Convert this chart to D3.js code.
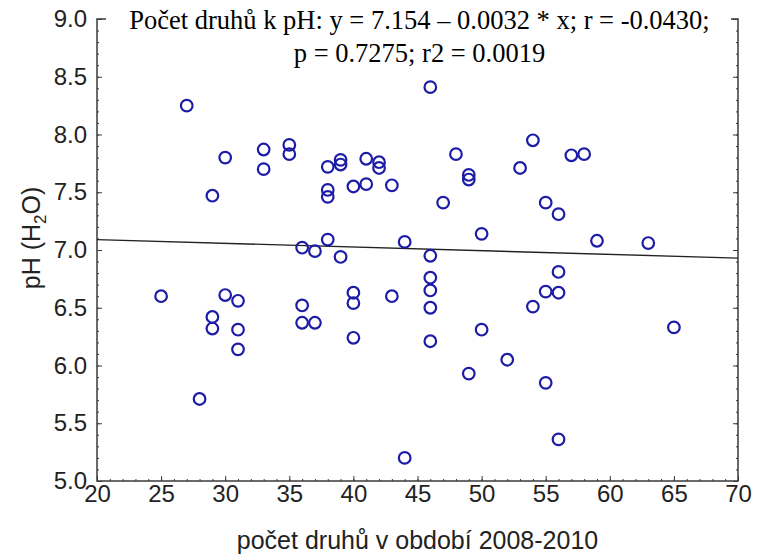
<!DOCTYPE html>
<html>
<head>
<meta charset="utf-8">
<script src="https://cdn.jsdelivr.net/npm/d3@7"></script>
<style>
  html, body { margin: 0; padding: 0; background: #fff; }
  svg { display: block; }
</style>
</head>
<body>
<svg id="chart" width="757" height="556"></svg>
<script>
// ---- data ----
const speciesCount = [
  25, 27, 28, 29, 29, 29, 30, 30, 31, 31, 31,
  33, 33, 35, 35, 36, 36, 36, 37, 37,
  38, 38, 38, 38, 39, 39, 39, 40, 40, 40, 40,
  41, 41, 42, 42, 43, 43, 44, 44,
  46, 46, 46, 46, 46, 46, 47, 48, 49, 49, 49,
  50, 50, 52, 53, 54, 54, 55, 55, 55,
  56, 56, 56, 56, 57, 58, 59, 63, 65
];
const phValues = [
  6.60, 8.25, 5.71, 7.47, 6.42, 6.32, 7.80, 6.61, 6.56, 6.31, 6.14,
  7.87, 7.70, 7.91, 7.83, 7.02, 6.52, 6.37, 6.99, 6.37,
  7.72, 7.52, 7.46, 7.09, 7.78, 7.74, 6.94, 7.55, 6.63, 6.54, 6.24,
  7.79, 7.57, 7.76, 7.71, 7.56, 6.60, 7.07, 5.20,
  8.41, 6.95, 6.76, 6.65, 6.50, 6.21, 7.41, 7.83, 7.65, 7.61, 5.93,
  7.14, 6.31, 6.05, 7.71, 7.95, 6.51, 7.41, 6.64, 5.85,
  7.31, 6.81, 6.63, 5.36, 7.82, 7.83, 7.08, 7.06, 6.33
];
const fitIntercept = 7.154;
const fitSlope = -0.0032;
const xTicks = [20, 25, 30, 35, 40, 45, 50, 55, 60, 65, 70];
const yTicks = [5.0, 5.5, 6.0, 6.5, 7.0, 7.5, 8.0, 8.5, 9.0];
const titleLines = [
  "Počet druhů k pH: y = 7.154 – 0.0032 * x; r = -0.0430;",
  "p = 0.7275; r2 = 0.0019"
];
const xTitle = "počet druhů v období 2008-2010";

// ---- layout ----
const W = 757, H = 556;
const m = { left: 97, right: 19, top: 19, bottom: 75 };
const pw = W - m.left - m.right, ph = H - m.top - m.bottom;

const svg = d3.select("#chart");
const g = svg.append("g").attr("transform", `translate(${m.left},${m.top})`);

const x = d3.scaleLinear().domain([20, 70]).range([0, pw]);
const y = d3.scaleLinear().domain([5, 9]).range([ph, 0]);

const axisColor = "#3a3a3a";
const labelFont = "Arial, 'Liberation Sans', sans-serif";

// frame
g.append("rect").attr("x", 0).attr("y", 0).attr("width", pw).attr("height", ph)
  .attr("fill", "none").attr("stroke", axisColor).attr("stroke-width", 1.5);

function styleAxis(sel) {
  sel.select(".domain").remove();
  sel.selectAll(".tick line").attr("stroke", axisColor).attr("stroke-width", 1);
  sel.selectAll(".tick text").attr("fill", "#222").style("font-family", labelFont).style("font-size", "24px");
}

// minor ticks
const yMinor = d3.range(50, 91).map(v => v / 10);
const xMinor = d3.range(20, 71);
g.append("g").call(d3.axisLeft(y).tickValues(yMinor).tickSizeInner(-2).tickSizeOuter(0).tickFormat(""))
  .call(styleAxis);
g.append("g").attr("transform", `translate(${pw},0)`)
  .call(d3.axisRight(y).tickValues(yMinor).tickSizeInner(-2).tickSizeOuter(0).tickFormat(""))
  .call(styleAxis);
g.append("g").attr("transform", `translate(0,${ph})`)
  .call(d3.axisBottom(x).tickValues(xMinor).tickSizeInner(-2).tickSizeOuter(0).tickFormat(""))
  .call(styleAxis);

// major ticks
g.append("g").call(d3.axisLeft(y).tickValues(yTicks).tickSizeInner(-5).tickSizeOuter(0)
    .tickPadding(10).tickFormat(d3.format(".1f")))
  .call(styleAxis);
g.append("g").attr("transform", `translate(${pw},0)`)
  .call(d3.axisRight(y).tickValues(yTicks).tickSizeInner(-5).tickSizeOuter(0).tickFormat(""))
  .call(styleAxis);
g.append("g").attr("transform", `translate(0,${ph})`)
  .call(d3.axisBottom(x).tickValues(xTicks).tickSizeInner(-5).tickSizeOuter(0).tickPadding(4))
  .call(styleAxis);

// regression line
const lineData = [20, 70].map(v => [v, fitIntercept + fitSlope * v]);
g.append("path").datum(lineData)
  .attr("d", d3.line().x(d => x(d[0])).y(d => y(d[1])))
  .attr("fill", "none").attr("stroke", "#222").attr("stroke-width", 1.4);

// points
const pts = speciesCount.map((v, i) => ({ x: v, y: phValues[i] }));
g.append("g").selectAll("circle").data(pts).join("circle")
  .attr("cx", d => x(d.x)).attr("cy", d => y(d.y)).attr("r", 5.8)
  .attr("fill", "none").attr("stroke", "#1c1ca6").attr("stroke-width", 2.2);

// title with white background over top border
g.append("rect").attr("x", 9).attr("y", -19).attr("width", pw - 16).attr("height", 30)
  .attr("fill", "#fff");
const title = g.append("text").attr("text-anchor", "middle")
  .style("font-family", "'Times New Roman', 'Liberation Serif', serif")
  .style("font-size", "26.5px").attr("fill", "#000");
title.selectAll("tspan").data(titleLines).join("tspan")
  .attr("x", pw / 2 + 2).attr("y", (d, i) => 10 + i * 33).text(d => d);

// axis titles
svg.append("text").attr("x", m.left + pw / 2).attr("y", 549)
  .attr("text-anchor", "middle")
  .style("font-family", labelFont).style("font-size", "25px").attr("fill", "#222")
  .text(xTitle);

const yt = svg.append("text")
  .attr("transform", `translate(40,238) rotate(-90)`)
  .attr("text-anchor", "middle")
  .style("font-family", labelFont).style("font-size", "25px").attr("fill", "#222");
yt.append("tspan").text("pH (H");
yt.append("tspan").attr("dy", 6).style("font-size", "17px").text("2");
yt.append("tspan").attr("dy", -6).text("O)");
</script>
</body>
</html>
